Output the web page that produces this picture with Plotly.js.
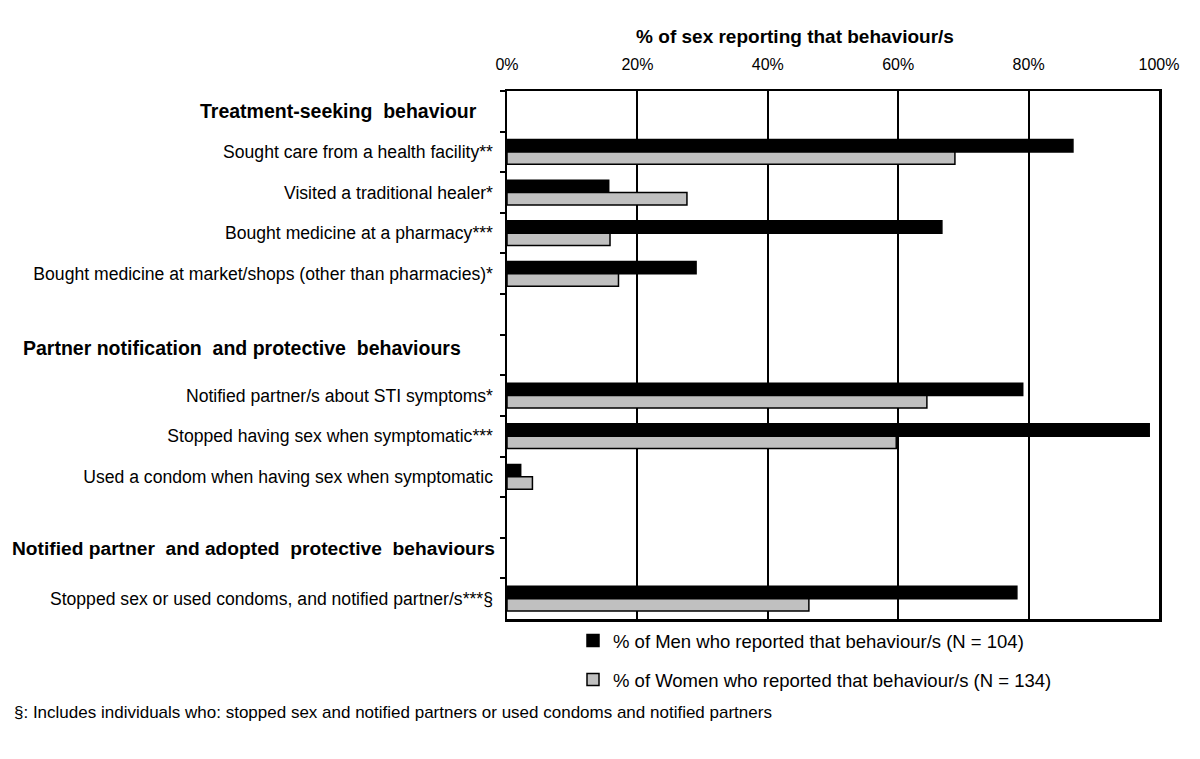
<!DOCTYPE html>
<html>
<head>
<meta charset="utf-8">
<script src="https://cdn.plot.ly/plotly-3.0.1.min.js"></script>
<style>html,body{margin:0;padding:0;background:#fff;}#chart{width:1200px;height:759px;}</style>
</head>
<body>
<div id="chart"></div>
<script>
// Row categories, top to bottom (blank strings are header / spacer rows)
const categories = [
  ' ',
  'Sought care from a health facility**',
  'Visited a traditional healer*',
  'Bought medicine at a pharmacy***',
  'Bought medicine at market/shops (other than pharmacies)*',
  '  ',
  '   ',
  'Notified partner/s about STI symptoms*',
  'Stopped having sex when symptomatic***',
  'Used a condom when having sex when symptomatic',
  '    ',
  '     ',
  'Stopped sex or used condoms, and notified partner/s***§'
];
const headerRows = [' ', '   ', '     '];
const headerLabels = [
  'Treatment-seeking&nbsp; behaviour',
  'Partner notification&nbsp; and protective&nbsp; behaviours',
  'Notified partner&nbsp; and adopted&nbsp; protective&nbsp; behaviours'
];
const menValues   = [null, 86.8, 15.6, 66.7, 29.0, null, null, 79.1, 98.5, 2.1, null, null, 78.2];
const womenValues = [null, 68.7, 27.6, 15.8, 17.1, null, null, 64.4, 59.7, 3.9, null, null, 46.3];
const xTickVals = [0, 20, 40, 60, 80, 100];
const xTickText = ['0%', '20%', '40%', '60%', '80%', '100%'];
const seriesNames = [
  '% of Men who reported that behaviour/s (N = 104)',
  '% of Women who reported that behaviour/s (N = 134)'
];
const footnote = '§: Includes individuals who: stopped sex and notified partners or used condoms and notified partners';
const xTitle = '% of sex reporting that behaviour/s';

const FONT = 'Liberation Sans, Arial, sans-serif';

const traces = [
  {type: 'bar', orientation: 'h', name: seriesNames[0], y: categories, x: menValues,
   marker: {color: '#000000', line: {color: '#000000', width: 1.5}}, legendgroup: 'm'},
  {type: 'bar', orientation: 'h', name: seriesNames[1], y: categories, x: womenValues,
   marker: {color: '#c0c0c0', line: {color: '#000000', width: 1.5}}, legendgroup: 'w'}
];

const headerShift = [0, 7, 10];
const headerX = [479, 463, 497];
const headerSize = [19.5, 19.5, 19.2];
const annotations = headerRows.map((r, i) => ({
  xref: 'paper', yref: 'y', x: (headerX[i] - 507) / 652, y: r, xanchor: 'right', yanchor: 'middle',
  text: '<b>' + headerLabels[i] + '</b>', showarrow: false, yshift: headerShift[i],
  font: {family: FONT, size: headerSize[i], color: '#000'}
}));
annotations.push({
  xref: 'paper', yref: 'paper', x: (12 - 507) / 652, y: (619 - 712) / 528, xanchor: 'left', yanchor: 'middle',
  text: footnote, showarrow: false, font: {family: FONT, size: 17, color: '#000'}
});

const layout = {
  width: 1200, height: 759,
  margin: {l: 507, r: 41, t: 91, b: 140},
  paper_bgcolor: '#fff', plot_bgcolor: '#fff',
  font: {family: FONT, color: '#000', size: 17.6},
  title: {text: '<b>' + xTitle + '</b>', font: {family: FONT, size: 19, color: '#000'},
          x: (795 - 507) / 652, xanchor: 'center', xref: 'paper', y: 1 - 36 / 759, yanchor: 'middle', yref: 'container'},
  barmode: 'group', bargap: 0.39, bargroupgap: 0,
  showlegend: true,
  legend: {x: (573 - 507) / 652, y: (619 - 622) / 528, xanchor: 'left', yanchor: 'top',
           font: {family: FONT, size: 18.5, color: '#000'}, tracegroupgap: 12,
           itemwidth: 30, bgcolor: 'rgba(0,0,0,0)'},
  xaxis: {
    side: 'top', range: [0, 100], tickvals: xTickVals, ticktext: xTickText,
    showgrid: true, gridcolor: '#000', gridwidth: 2, zeroline: false,
    showline: true, linecolor: '#000', linewidth: 2.5, mirror: true, ticks: '',
    tickfont: {family: FONT, size: 16}, ticklabelstandoff: 12, fixedrange: true
  },
  yaxis: {
    type: 'category', categoryorder: 'array', categoryarray: categories,
    autorange: 'reversed', showgrid: false, zeroline: false,
    showline: true, linecolor: '#000', linewidth: 2.5, mirror: true,
    ticks: 'outside', ticklen: 5, tickwidth: 2, tickcolor: '#000', tickson: 'boundaries',
    tickfont: {family: FONT, size: 17.6}, ticklabelstandoff: 8
  },
  annotations: annotations
};

Plotly.newPlot('chart', traces, layout, {displayModeBar: false, staticPlot: true});
</script>
</body>
</html>
